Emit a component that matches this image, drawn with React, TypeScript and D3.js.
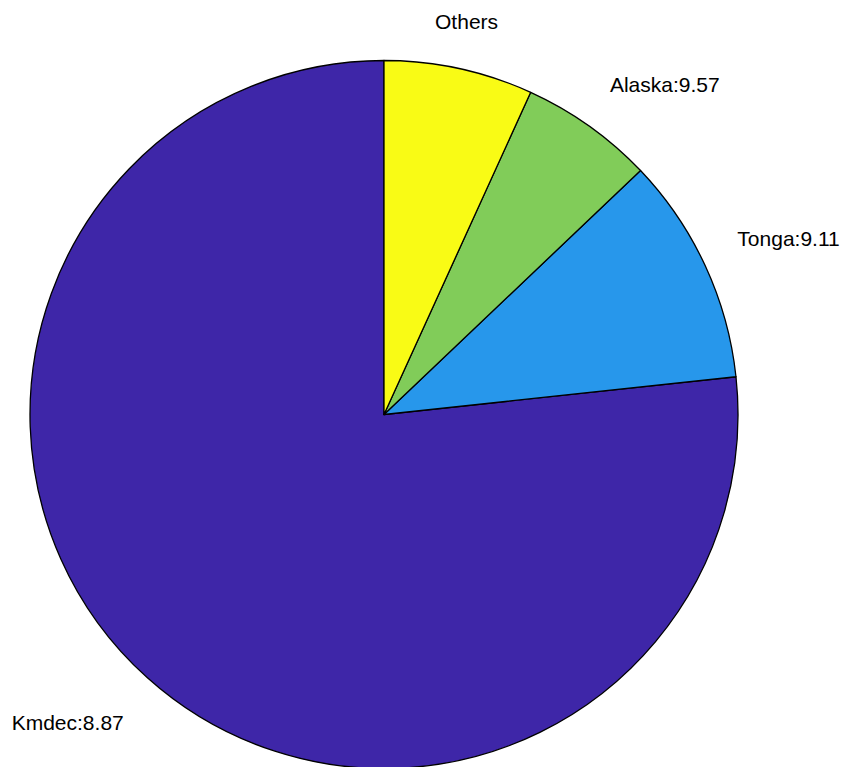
import React from "react";
import * as d3 from "d3";

const categories = ["Kmdec", "Tonga", "Alaska", "Others"];
const shares = [76.7, 10.4, 6.1, 6.8];
const labelTexts = ["Kmdec:8.87", "Tonga:9.11", "Alaska:9.57", "Others"];
const colors = ["#3e26a8", "#2797eb", "#81cc59", "#f9fb15"];

const W = 843;
const H = 767;
const cx = 384;
const cy = 414.5;
const R = 354;

export default function App() {
  // counterclockwise from top (MATLAB style): d3 angles go clockwise, so negate
  const pie = d3
    .pie<number>()
    .sort(null)
    .startAngle(0)
    .endAngle(-2 * Math.PI);
  const arcs = pie(shares);
  const arcGen = d3.arc<d3.PieArcDatum<number>>().innerRadius(0).outerRadius(R);

  return (
    <svg
      width={W}
      height={H}
      style={{ position: "absolute", left: 0, top: 0, background: "#fff" }}
    >
      <g transform={`translate(${cx},${cy})`}>
        {arcs.map((a, i) => (
          <path
            key={categories[i]}
            d={arcGen(a) || ""}
            fill={colors[i]}
            stroke="#000"
            strokeWidth={1.3}
            strokeLinejoin="round"
          />
        ))}
        {arcs.map((a, i) => {
          const mid = (a.startAngle + a.endAngle) / 2;
          const s = Math.sin(mid);
          const c = Math.cos(mid);
          const x = 1.1 * R * s;
          const y = -1.1 * R * c;
          const anchor = s > 0.3 ? "start" : s < -0.3 ? "end" : "middle";
          const dy = c > 0 ? -5 : 26;
          return (
            <text
              key={"l" + categories[i]}
              x={x}
              y={y + dy}
              textAnchor={anchor}
              fontFamily="'Liberation Sans', Arial, sans-serif"
              fontSize={21}
              fill="#000"
            >
              {labelTexts[i]}
            </text>
          );
        })}
      </g>
    </svg>
  );
}
